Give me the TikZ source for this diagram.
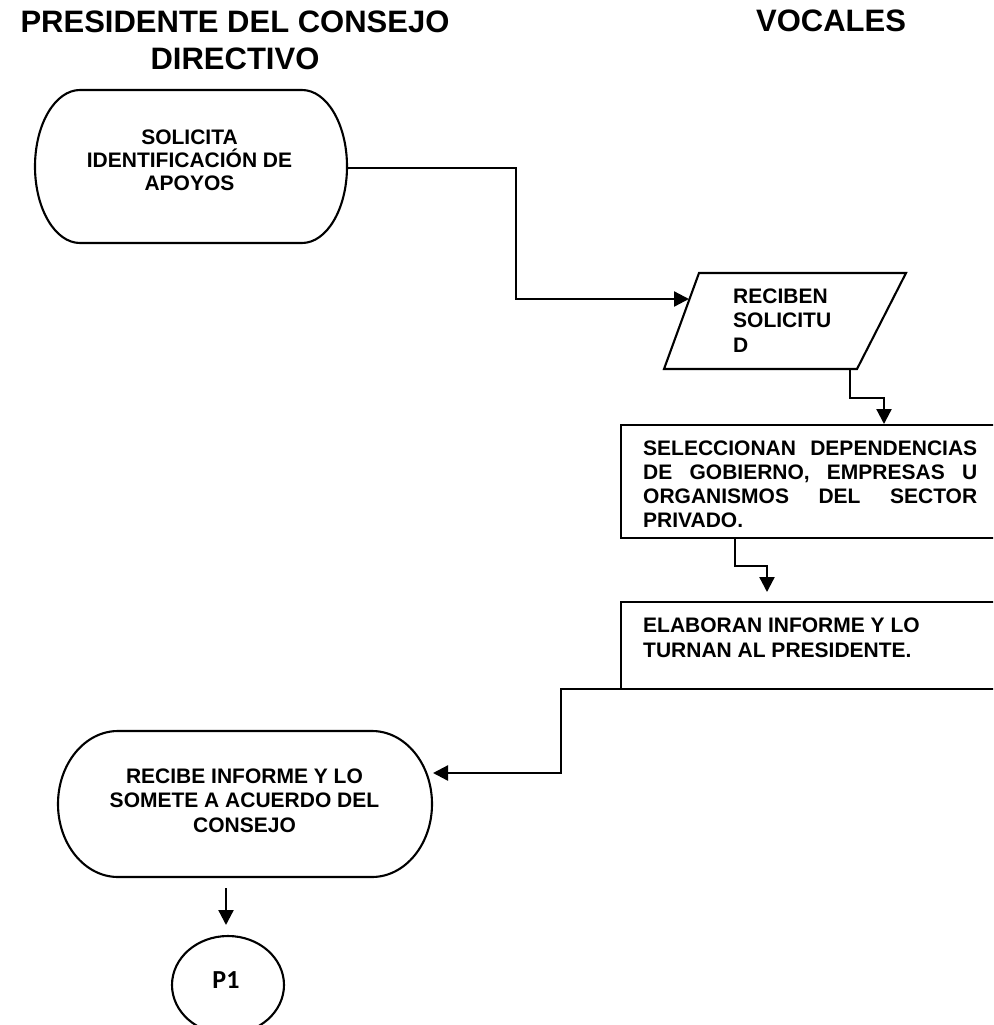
\documentclass[tikz,border=0pt]{standalone}
\usepackage{fontspec}
\setmainfont{Liberation Sans}
\newfontfamily\connfont{Carlito}
\usetikzlibrary{calc,arrows.meta,shapes.geometric}

\tikzset{
  outline/.style={draw=black, line width=2.1pt},
  flow/.style={draw=black, line width=2.3pt, -{Triangle[length=15pt,width=15pt]}},
  headtext/.style={inner sep=0pt, anchor=base, font=\fontsize{31pt}{37pt}\selectfont\bfseries},
  bodytext/.style={inner sep=0pt, font=\fontsize{21pt}{24.5pt}\selectfont\bfseries},
  termframe/.style={rectangle, inner sep=0pt, outer sep=0pt},
  stepbox/.style={outline, rectangle, inner sep=0pt, outer sep=0pt, anchor=north west},
}

\begin{document}
\begin{tikzpicture}[x=1pt, y=-1pt]
  \fill[white] (0,0) rectangle (993,1025);
  \clip (0,0) rectangle (993,1025);

  % column headings
  \node[headtext] (hpres) at (235,33)
    {\parbox[t]{470pt}{\centering PRESIDENTE DEL CONSEJO\\DIRECTIVO}};
  \node[headtext] (hvoc) at (831,32) {VOCALES};

  % start: request (terminator with elliptical ends, rx = 45)
  \node[termframe, minimum width=312pt, minimum height=153pt] (t1) at (191,166.5) {};
  \draw[outline]
    ($(t1.north west)+(45,0)$) -- ($(t1.north east)+(-45,0)$)
    .. controls ($(t1.north east)+(-20.15,0)$) and ($(t1.east)+(0,-42.25)$) .. (t1.east)
    .. controls ($(t1.east)+(0,42.25)$) and ($(t1.south east)+(-20.15,0)$) .. ($(t1.south east)+(-45,0)$)
    -- ($(t1.south west)+(45,0)$)
    .. controls ($(t1.south west)+(20.15,0)$) and ($(t1.west)+(0,42.25)$) .. (t1.west)
    .. controls ($(t1.west)+(0,-42.25)$) and ($(t1.north west)+(20.15,0)$) .. cycle;
  \node[bodytext, anchor=base] (t1txt) at (189.5,144)
    {\parbox[t]{260pt}{\centering\fontsize{21pt}{23pt}\selectfont SOLICITA\\IDENTIFICACIÓN DE\\APOYOS}};

  % input: receive request
  \coordinate (rtl) at (699,273);
  \coordinate (rtr) at (906,273);
  \coordinate (rbr) at (857,369);
  \coordinate (rbl) at (664,369);
  \draw[outline, line join=miter] (rtl) -- (rtr) -- (rbr) -- (rbl) -- cycle;
  \node[bodytext, anchor=base west] (rtxt) at (733,303)
    {\parbox[t]{150pt}{\raggedright RECIBEN\\SOLICITU\\D}};
  \coordinate (rin) at (689,299);
  \coordinate (rout) at (850,369);

  % process: selection
  \node[stepbox, minimum width=400pt, minimum height=113pt] (sel) at (621,425) {};
  \node[bodytext, anchor=base west] (seltxt) at (643,455)
    {\parbox[t]{334pt}{\fontsize{21pt}{24.3pt}\selectfont\hyphenpenalty=10000
      SELECCIONAN DEPENDENCIAS\linebreak DE GOBIERNO, EMPRESAS U\linebreak
      ORGANISMOS DEL SECTOR\linebreak PRIVADO.}};

  % process: report
  \node[stepbox, minimum width=400pt, minimum height=87pt] (rep) at (621,602) {};
  \node[bodytext, anchor=base west] (reptxt) at (643,632)
    {\parbox[t]{334pt}{\raggedright\fontsize{21pt}{25pt}\selectfont
      ELABORAN INFORME Y LO\\TURNAN AL PRESIDENTE.}};

  % terminal: receive report (elliptical ends, rx = 60)
  \node[termframe, minimum width=374pt, minimum height=146pt] (t2) at (245,804) {};
  \draw[outline]
    ($(t2.north west)+(60,0)$) -- ($(t2.north east)+(-60,0)$)
    .. controls ($(t2.north east)+(-26.86,0)$) and ($(t2.east)+(0,-40.32)$) .. (t2.east)
    .. controls ($(t2.east)+(0,40.32)$) and ($(t2.south east)+(-26.86,0)$) .. ($(t2.south east)+(-60,0)$)
    -- ($(t2.south west)+(60,0)$)
    .. controls ($(t2.south west)+(26.86,0)$) and ($(t2.west)+(0,40.32)$) .. (t2.west)
    .. controls ($(t2.west)+(0,-40.32)$) and ($(t2.north west)+(26.86,0)$) .. cycle;
  \node[bodytext, anchor=base] (t2txt) at (244.5,783)
    {\parbox[t]{320pt}{\centering RECIBE INFORME Y LO\\SOMETE A ACUERDO DEL\\CONSEJO}};

  % off-page connector
  \node[outline, ellipse, minimum width=112pt, minimum height=98pt, inner sep=0pt] (p1) at (228,985) {};
  \node[inner sep=0pt, anchor=base, font=\connfont\bfseries\fontsize{26pt}{30pt}\selectfont] (p1txt) at (226,988) {P1};

  % connectors
  \coordinate (b1) at (516,299);
  \draw[flow] ($(t1.east)+(0,1.5)$) -| (b1) -- (rin);

  \coordinate (b2) at (850,398);
  \coordinate (b3) at (884,398);
  \coordinate (selin) at (884,424);
  \draw[flow] (rout) -- (b2) -- (b3) -- (selin);

  \coordinate (selout) at ($(sel.south west)+(114,0)$);
  \coordinate (b4) at (735,566);
  \coordinate (b5) at (767,566);
  \coordinate (repin) at (767,592);
  \draw[flow] (selout) -- (b4) -- (b5) -- (repin);

  \coordinate (repout) at ($(rep.south west)+(69,0)$);
  \coordinate (b6) at (561,689);
  \coordinate (b7) at (561,773);
  \coordinate (t2in) at (433,773);
  \draw[flow] (repout) -- (b6) -- (b7) -- (t2in);

  \coordinate (t2out) at (226,888);
  \coordinate (p1in) at (226,925);
  \draw[flow] (t2out) -- (p1in);
\end{tikzpicture}
\end{document}
